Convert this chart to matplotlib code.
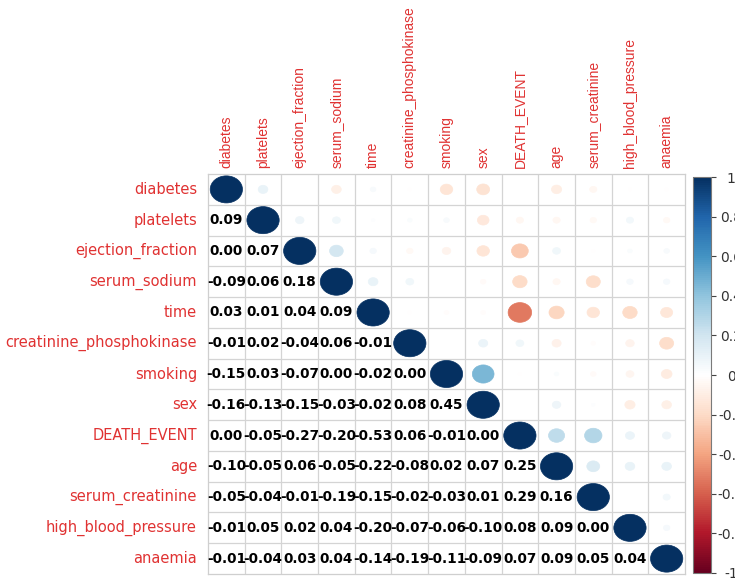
import numpy as np
import matplotlib
matplotlib.use("Agg")
import matplotlib.pyplot as plt
from matplotlib.patches import Ellipse
from matplotlib.colors import LinearSegmentedColormap, Normalize
from matplotlib.cm import ScalarMappable

# Variable order (rows top-to-bottom, columns left-to-right)
variables = [
    "diabetes", "platelets", "ejection_fraction", "serum_sodium", "time",
    "creatinine_phosphokinase", "smoking", "sex", "DEATH_EVENT", "age",
    "serum_creatinine", "high_blood_pressure", "anaemia",
]

# Lower-triangle Pearson correlations, one list per row
lower_rows = [
    [],
    [0.09],
    [0.00, 0.07],
    [-0.09, 0.06, 0.18],
    [0.03, 0.01, 0.04, 0.09],
    [-0.01, 0.02, -0.04, 0.06, -0.01],
    [-0.15, 0.03, -0.07, 0.00, -0.02, 0.00],
    [-0.16, -0.13, -0.15, -0.03, -0.02, 0.08, 0.45],
    [0.00, -0.05, -0.27, -0.20, -0.53, 0.06, -0.01, 0.00],
    [-0.10, -0.05, 0.06, -0.05, -0.22, -0.08, 0.02, 0.07, 0.25],
    [-0.05, -0.04, -0.01, -0.19, -0.15, -0.02, -0.03, 0.01, 0.29, 0.16],
    [-0.01, 0.05, 0.02, 0.04, -0.20, -0.07, -0.06, -0.10, 0.08, 0.09, 0.00],
    [-0.01, -0.04, 0.03, 0.04, -0.14, -0.19, -0.11, -0.09, 0.07, 0.09, 0.05, 0.04],
]

colorbar_ticks = [1.0, 0.8, 0.6, 0.4, 0.2, 0.0, -0.2, -0.4, -0.6, -0.8, -1.0]
colorbar_labels = ["1", "0.8", "0.6", "0.4", "0.2", "0", "-0.2", "-0.4", "-0.6", "-0.8", "-1"]

# Build the full symmetric matrix
n = len(variables)
corr = np.eye(n)
for i, row in enumerate(lower_rows):
    for j, v in enumerate(row):
        corr[i, j] = v
        corr[j, i] = v

rdbu = LinearSegmentedColormap.from_list(
    "corr_rdbu",
    ["#67001F", "#B2182B", "#D6604D", "#F4A582", "#FDDBC7", "#FFFFFF",
     "#D1E5F0", "#92C5DE", "#4393C3", "#2166AC", "#053061"], N=200)
norm = Normalize(-1, 1)

W, H = 735, 583
fig = plt.figure(figsize=(W / 100, H / 100), dpi=100)
fig.patch.set_facecolor("white")


def px_axes(x0, y0, x1, y1):
    return fig.add_axes([x0 / W, 1 - y1 / H, (x1 - x0) / W, (y1 - y0) / H])


ax = px_axes(208, 174, 685, 574)
ax.set_xlim(0, n)
ax.set_ylim(n, 0)
ax.set_xticks([])
ax.set_yticks([])
for s in ax.spines.values():
    s.set_color("#cfcfcf")
    s.set_linewidth(0.9)

grid_color = "#d4d4d4"
for k in range(1, n):
    ax.axhline(k, color=grid_color, lw=0.9, zorder=1)
    ax.axvline(k, color=grid_color, lw=0.9, zorder=1)

for i in range(n):
    for j in range(n):
        v = corr[i, j]
        cx, cy = j + 0.5, i + 0.5
        if j >= i:
            d = 0.88 * np.sqrt(abs(v))
            if d > 0:
                col = rdbu(norm(v))
                ax.add_patch(Ellipse((cx, cy), d, d, facecolor=col,
                                     edgecolor=col, lw=0.5, zorder=2))
        else:
            ax.text(cx, cy, f"{v:.2f}", ha="center", va="center",
                    fontsize=9.8, fontweight="bold", color="black",
                    family="DejaVu Sans", zorder=3)

label_color = "#E03232"
for i, name in enumerate(variables):
    ax.text(-0.3, i + 0.5, name, ha="right", va="center", fontsize=10.5,
            color=label_color, family="DejaVu Sans", clip_on=False)
    ax.text(i + 0.5, -0.2, name, ha="center", va="bottom", rotation=90,
            fontsize=10, color=label_color, family="Liberation Sans",
            clip_on=False)

# Colour legend
cax = px_axes(693, 177, 711, 573)
sm = ScalarMappable(norm=norm, cmap=rdbu)
cb = fig.colorbar(sm, cax=cax, ticks=colorbar_ticks)
cb.outline.set_edgecolor("#7a7a7a")
cb.outline.set_linewidth(0.8)
cax.set_yticklabels(colorbar_labels)
cax.tick_params(axis="y", length=3.6, width=0.8, color="#444444", pad=11,
                labelsize=10, labelcolor="#333333")
for t in cax.get_yticklabels():
    t.set_horizontalalignment("center")

fig.savefig("out.png", dpi=100)
